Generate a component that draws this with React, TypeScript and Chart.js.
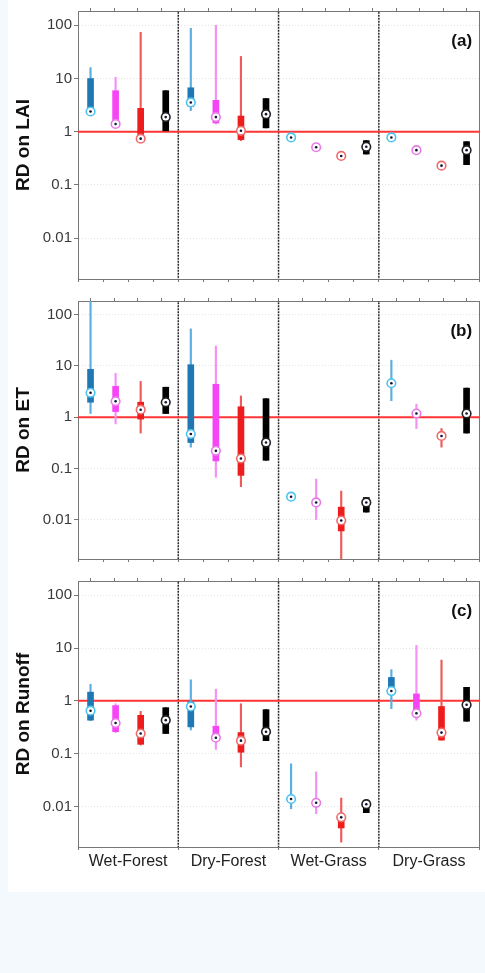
import React, { useEffect, useRef } from "react";
import { Chart, registerables } from "chart.js";
Chart.register(...registerables);

// ---------- data ----------
const groups = ["Wet-Forest", "Dry-Forest", "Wet-Grass", "Dry-Grass"];
const yTickValues = [0.01, 0.1, 1, 10, 100];
const yTickLabels = ["0.01", "0.1", "1", "10", "100"];
const yMin = 0.0017;
const yMax = 186;
const refValue = 1;

// each row: one group, [min, q1, median, q3, max]
const laiBlue = [[2.0, 2.2, 2.4, 10, 16], [2.5, 3.0, 3.55, 6.7, 88], [0.74, 0.76, 0.78, 0.8, 0.82], [0.74, 0.76, 0.78, 0.8, 0.82]];
const laiMagenta = [[1.25, 1.3, 1.4, 5.9, 10.6], [1.4, 1.46, 1.88, 3.9, 100], [0.48, 0.49, 0.51, 0.53, 0.55], [0.42, 0.43, 0.45, 0.47, 0.49]];
const laiRed = [[0.63, 0.7, 0.74, 2.75, 74], [0.68, 0.71, 1.04, 1.97, 26], [0.32, 0.33, 0.35, 0.37, 0.38], [0.2, 0.21, 0.23, 0.25, 0.26]];
const laiBlack = [[1.04, 1.04, 1.88, 5.9, 5.9], [1.18, 1.18, 2.14, 4.2, 4.2], [0.38, 0.38, 0.52, 0.68, 0.68], [0.24, 0.24, 0.45, 0.65, 0.65]];

const etBlue = [[1.18, 1.96, 3.0, 8.6, 200], [0.26, 0.32, 0.47, 10.6, 53], [0.027, 0.027, 0.028, 0.029, 0.03], [2.1, 4.2, 4.6, 5.0, 13]];
const etMagenta = [[0.74, 1.29, 2.05, 4.0, 7.2], [0.067, 0.14, 0.22, 4.4, 24.6], [0.01, 0.02, 0.0216, 0.023, 0.062], [0.6, 1.1, 1.18, 1.26, 1.8]];
const etRed = [[0.49, 0.92, 1.4, 1.96, 5], [0.044, 0.073, 0.156, 1.6, 2.6], [0.0017, 0.006, 0.0096, 0.0175, 0.036], [0.26, 0.4, 0.43, 0.46, 0.6]];
const etBlack = [[1.18, 1.18, 1.96, 3.85, 3.85], [0.144, 0.144, 0.32, 2.3, 2.3], [0.014, 0.014, 0.0216, 0.027, 0.027], [0.49, 0.49, 1.18, 3.7, 3.7]];

const runoffBlue = [[0.42, 0.43, 0.65, 1.46, 2.06], [0.28, 0.32, 0.78, 0.96, 2.5], [0.009, 0.013, 0.0138, 0.0146, 0.064], [0.71, 1.35, 1.53, 2.77, 3.9]];
const runoffMagenta = [[0.25, 0.26, 0.38, 0.81, 0.88], [0.12, 0.19, 0.2, 0.33, 1.66], [0.0073, 0.011, 0.0117, 0.0124, 0.045], [0.43, 0.53, 0.58, 1.35, 11.2]];
const runoffRed = [[0.145, 0.15, 0.24, 0.53, 0.63], [0.056, 0.106, 0.176, 0.25, 0.88], [0.0021, 0.0039, 0.0062, 0.0067, 0.0144], [0.18, 0.18, 0.25, 0.78, 5.9]];
const runoffBlack = [[0.24, 0.24, 0.43, 0.74, 0.74], [0.176, 0.176, 0.26, 0.68, 0.68], [0.0076, 0.0076, 0.011, 0.0126, 0.0126], [0.41, 0.41, 0.84, 1.8, 1.8]];

// ---------- styles ----------
const boxColors = ["#1f78b4", "#f545f5", "#ee1c1c", "#000000"];
const whiskerColors = ["#5aaee0", "#f590f5", "#f05a5a", "#111111"];
const ringColors = ["#4cc3f0", "#e87ae8", "#f06a6a", "#222222"];
const dotColor = "#111133";
const FONT = '"Liberation Sans", Arial, sans-serif';
const PAGE_BG = "#f4f9fd";

const panels = [
  { title: "RD on LAI", tag: "(a)", stats: [laiBlue, laiMagenta, laiRed, laiBlack], top: 0, height: 290, plotTop: 10, plotBottom: 285, showX: false },
  { title: "RD on ET", tag: "(b)", stats: [etBlue, etMagenta, etRed, etBlack], top: 290, height: 280, plotTop: 293, plotBottom: 567, showX: false },
  { title: "RD on Runoff", tag: "(c)", stats: [runoffBlue, runoffMagenta, runoffRed, runoffBlack], top: 570, height: 322, plotTop: 574, plotBottom: 847, showX: true },
];

const tagPlugin = {
  id: "panelTag",
  afterDraw(chart: any) {
    const opt = chart.options.plugins.panelTag;
    if (!opt || !opt.text) return;
    const { ctx, chartArea } = chart;
    ctx.save();
    ctx.font = `bold 17px ${FONT}`;
    ctx.fillStyle = "#111";
    ctx.textAlign = "right";
    ctx.textBaseline = "middle";
    ctx.fillText(opt.text, chartArea.right - 7, chartArea.top + 30);
    ctx.restore();
  },
};

function Panel({ cfg }: { cfg: any }) {
  const ref = useRef<HTMLCanvasElement | null>(null);
  useEffect(() => {
    if (!ref.current) return;
    const whisk: any[] = [], wCol: string[] = [];
    const box: any[] = [], bCol: string[] = [];
    const med: any[] = [], rCol: string[] = [];
    cfg.stats.forEach((series: number[][], s: number) => {
      series.forEach((st: number[], g: number) => {
        const x = g * 4 + s + 0.5;
        whisk.push({ x, y: [st[0], st[4]] });
        wCol.push(whiskerColors[s]);
        box.push({ x, y: [st[1], st[3]] });
        bCol.push(boxColors[s]);
        med.push({ x, y: st[2] });
        rCol.push(ringColors[s]);
      });
    });
    const boxTicks: number[] = [];
    for (let i = 0; i < 16; i++) boxTicks.push(i + 0.5);
    const sepLines = [4, 8, 12].map((xv) => ({
      type: "line",
      data: [{ x: xv, y: 1e-5 }, { x: xv, y: 1e5 }],
      borderColor: "#2a2a2a",
      borderWidth: 1.5,
      borderDash: [2, 1],
      pointRadius: 0,
      clip: 0,
      order: 10,
    }));
    const chart = new Chart(ref.current, {
      type: "bar",
      data: {
        datasets: [
          ...sepLines,
          {
            type: "line",
            data: [{ x: 0, y: refValue }, { x: 16, y: refValue }],
            borderColor: "#ff3535",
            borderWidth: 2,
            pointRadius: 0,
            clip: 0,
            order: 9,
          },
          { type: "bar", data: whisk, backgroundColor: wCol, barThickness: 1.5, grouped: false, order: 4 },
          { type: "bar", data: box, backgroundColor: bCol, barThickness: 6, grouped: false, order: 3 },
          { type: "scatter", data: med, pointRadius: 4.3, pointBackgroundColor: "#ffffff", pointBorderColor: rCol, pointBorderWidth: 1.6, order: 2 },
          { type: "scatter", data: med, pointRadius: 1.3, pointBackgroundColor: dotColor, pointBorderWidth: 0, order: 1 },
        ] as any,
      },
      options: {
        animation: false,
        responsive: false,
        layout: { padding: { top: cfg.plotTop - cfg.top, right: 1, left: 0, bottom: 0 } },
        plugins: { legend: { display: false }, tooltip: { enabled: false }, panelTag: { text: cfg.tag } } as any,
        scales: {
          x: {
            type: "linear",
            position: "bottom",
            min: 0,
            max: 16,
            offset: false,
            afterBuildTicks: (sc: any) => {
              sc.ticks = (cfg.showX ? [2, 6, 10, 14] : boxTicks).map((v) => ({ value: v }));
            },
            afterFit: (sc: any) => {
              sc.height = cfg.top + cfg.height - cfg.plotBottom;
            },
            ticks: {
              display: cfg.showX,
              autoSkip: false,
              maxRotation: 0,
              padding: 2,
              color: "#222",
              font: { family: FONT, size: 16 },
              callback: (v: any) => groups[Math.round((Number(v) - 2) / 4)] ?? "",
            },
            grid: { drawOnChartArea: false, drawTicks: true, tickLength: 3, tickColor: "#777" },
            border: { color: "#777", width: 1 },
          },
          x2: {
            type: "linear",
            position: "top",
            min: 0,
            max: 16,
            afterBuildTicks: (sc: any) => {
              sc.ticks = boxTicks.map((v) => ({ value: v }));
            },
            afterFit: (sc: any) => {
              sc.height = 0;
            },
            ticks: { display: false },
            grid: { drawOnChartArea: false, drawTicks: true, tickLength: 3, tickColor: "#777" },
            border: { color: "#777", width: 1 },
          },
          y: {
            type: "logarithmic",
            position: "left",
            min: yMin,
            max: yMax,
            afterBuildTicks: (sc: any) => {
              sc.ticks = yTickValues.map((v) => ({ value: v }));
            },
            afterFit: (sc: any) => {
              sc.width = 70;
            },
            ticks: {
              padding: 2,
              color: "#3a3a3a",
              font: { family: FONT, size: 15 },
              callback: (v: any) => {
                const i = yTickValues.findIndex((t) => Math.abs(Math.log10(t) - Math.log10(Number(v))) < 0.01);
                return i >= 0 ? yTickLabels[i] : "";
              },
            },
            grid: { drawOnChartArea: true, color: "#e4e4e4", lineWidth: 1, drawTicks: true, tickLength: 4, tickColor: "#777" },
            border: { color: "#777", width: 1, dash: [1, 2] },
            title: {
              display: true,
              text: cfg.title,
              color: "#111",
              font: { family: FONT, size: 19, weight: "bold" },
              padding: { top: 4, bottom: 0 },
            },
          },
          y2: {
            type: "logarithmic",
            position: "right",
            min: yMin,
            max: yMax,
            afterFit: (sc: any) => {
              sc.width = 0;
            },
            ticks: { display: false },
            grid: { drawOnChartArea: false, drawTicks: false },
            border: { color: "#777", width: 1 },
          },
        },
      } as any,
      plugins: [tagPlugin as any],
    });
    return () => chart.destroy();
  }, [cfg]);
  return (
    <canvas
      ref={ref}
      width={477}
      height={cfg.height}
      style={{ position: "absolute", left: 0, top: cfg.top, width: 477, height: cfg.height, display: "block" }}
    />
  );
}

export default function App() {
  useEffect(() => {
    document.body.style.margin = "0";
    document.body.style.background = PAGE_BG;
  }, []);
  return (
    <div style={{ width: 485, height: 973, background: PAGE_BG, position: "relative" }}>
      <div style={{ position: "absolute", left: 8, top: 0, width: 477, height: 892, background: "#ffffff" }}>
        {panels.map((p) => (
          <Panel key={p.tag} cfg={p} />
        ))}
      </div>
    </div>
  );
}
